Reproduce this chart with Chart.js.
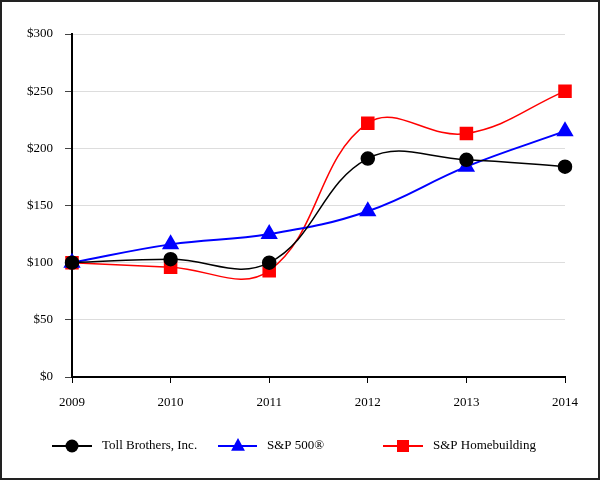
<!DOCTYPE html>
<html>
<head>
<meta charset="utf-8">
<script src="https://cdn.jsdelivr.net/npm/chart.js@4"></script>
<style>
  html, body { margin: 0; padding: 0; background: #fff; }
  #wrap { width: 600px; height: 480px; position: relative; }
</style>
</head>
<body>
<div id="wrap"><canvas id="returnChart" width="600" height="480"></canvas></div>
<script>
// Werte
var years = ['2009', '2010', '2011', '2012', '2013', '2014'];
var tollBrothers = [100, 103, 100, 191, 190, 184];
var sp500 = [100, 116, 125, 145, 184, 215];
var spHomebuilding = [100, 96, 93, 222, 213, 250];
var seriesNames = ['Toll Brothers, Inc.', 'S&P 500\u00AE', 'S&P Homebuilding'];

var serif = "'Liberation Serif', 'DejaVu Serif', serif";

function drawMarker(ctx, style, x, y, r, color) {
  ctx.save();
  ctx.fillStyle = color;
  ctx.beginPath();
  if (style === 'circle') {
    ctx.arc(x, y, r, 0, Math.PI * 2);
  } else if (style === 'triangle') {
    ctx.moveTo(x, y - r);
    ctx.lineTo(x + r * 0.866, y + r * 0.6);
    ctx.lineTo(x - r * 0.866, y + r * 0.6);
    ctx.closePath();
  } else {
    ctx.rect(x - r, y - r, r * 2, r * 2);
  }
  ctx.fill();
  ctx.restore();
}

// Legende unten und Rahmen
var legendPlugin = {
  id: 'bottomLegend',
  afterDraw: function (chart) {
    var ctx = chart.ctx;
    var items = [
      { lineFrom: 52, lineTo: 92, mark: 72, text: 102, style: 'circle', r: 6.5 },
      { lineFrom: 218, lineTo: 257, mark: 238, text: 267, style: 'triangle', r: 8 },
      { lineFrom: 383, lineTo: 423, mark: 403, text: 433, style: 'rect', r: 6 }
    ];
    var y = 446;
    chart.data.datasets.forEach(function (ds, i) {
      var it = items[i];
      ctx.save();
      ctx.strokeStyle = ds.borderColor;
      ctx.lineWidth = 2;
      ctx.beginPath();
      ctx.moveTo(it.lineFrom, y);
      ctx.lineTo(it.lineTo, y);
      ctx.stroke();
      ctx.restore();
      drawMarker(ctx, it.style, it.mark, y, it.r, ds.backgroundColor);
      ctx.save();
      ctx.fillStyle = '#000';
      ctx.font = '13px ' + serif;
      ctx.textBaseline = 'middle';
      ctx.fillText(ds.label, it.text, y);
      ctx.restore();
    });
    ctx.save();
    ctx.strokeStyle = '#222';
    ctx.lineWidth = 2;
    ctx.strokeRect(1, 1, 598, 478);
    ctx.restore();
  }
};

var ctx = document.getElementById('returnChart').getContext('2d');
new Chart(ctx, {
  type: 'line',
  data: {
    labels: years,
    datasets: [
      {
        label: seriesNames[0],
        data: tollBrothers,
        borderColor: '#000000',
        backgroundColor: '#000000',
        borderWidth: 1.5,
        pointStyle: 'circle',
        pointRadius: 6.5,
        pointHoverRadius: 6.5,
        tension: 0.4
      },
      {
        label: seriesNames[1],
        data: sp500,
        borderColor: '#0000ff',
        backgroundColor: '#0000ff',
        borderWidth: 2,
        pointStyle: 'triangle',
        pointRadius: 8,
        pointHoverRadius: 8,
        tension: 0.4
      },
      {
        label: seriesNames[2],
        data: spHomebuilding,
        borderColor: '#ff0000',
        backgroundColor: '#ff0000',
        borderWidth: 1.5,
        pointStyle: 'rect',
        pointRadius: 8.5,
        pointHoverRadius: 8.5,
        tension: 0.4
      }
    ]
  },
  options: {
    responsive: false,
    animation: false,
    layout: { padding: { top: 34, right: 35, left: 0, bottom: 0 } },
    plugins: {
      legend: { display: false },
      tooltip: { enabled: false }
    },
    scales: {
      x: {
        offset: false,
        afterFit: function (scale) { scale.height = 103; },
        grid: { drawOnChartArea: false, drawTicks: true, tickLength: 6, tickColor: '#000' },
        border: { color: '#000', width: 2 },
        ticks: { color: '#000', font: { family: serif, size: 13 }, padding: 12, maxRotation: 0 }
      },
      y: {
        min: 0,
        max: 300,
        afterFit: function (scale) { scale.width = 72; },
        grid: { color: '#dddddd', lineWidth: 1, tickLength: 7, tickColor: '#444' },
        border: { color: '#000', width: 2 },
        ticks: {
          stepSize: 50,
          color: '#000',
          padding: 12,
          font: { family: serif, size: 13 },
          callback: function (v) { return '$' + v; }
        }
      }
    }
  },
  plugins: [legendPlugin]
});
</script>
</body>
</html>
